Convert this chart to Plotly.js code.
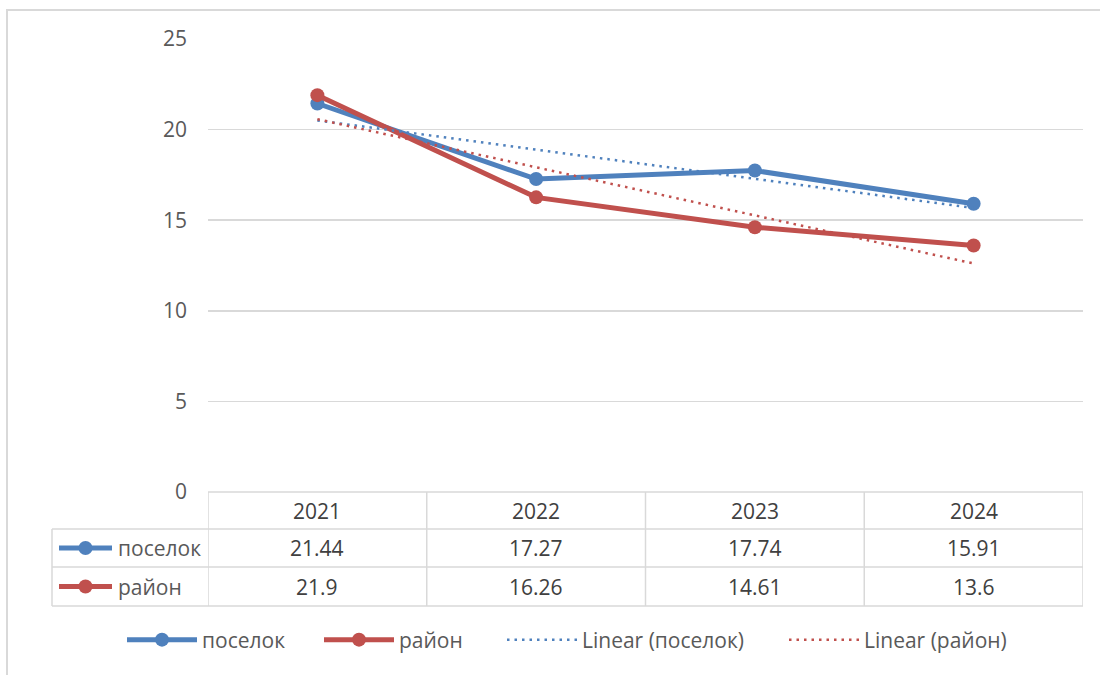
<!DOCTYPE html>
<html>
<head>
<meta charset="utf-8">
<script src="https://cdn.plot.ly/plotly-3.0.1.min.js"></script>
<style>
  html, body { margin: 0; padding: 0; background: #fff; }
  #wrap { position: relative; width: 1100px; height: 675px; overflow: hidden; }
  #chart { width: 1100px; height: 675px; }
  #frame { position: absolute; left: 6px; top: 9px; width: 1200px; height: 800px;
           border-left: 2px solid #d9d9d9; border-top: 2px solid #d9d9d9; pointer-events: none; }
</style>
</head>
<body>
<div id="wrap"><div id="chart"></div><div id="frame"></div></div>
<script>
// ---- data ----
const years = ['2021', '2022', '2023', '2024'];
const poselok = [21.44, 17.27, 17.74, 15.91];
const rayon = [21.9, 16.26, 14.61, 13.6];
const seriesNames = ['поселок', 'район'];
const trendNames = ['Linear (поселок)', 'Linear (район)'];
const yTicks = [0, 5, 10, 15, 20, 25];

// ---- styling ----
const BLUE = '#4f81bd', RED = '#c0504d';
const FONT = 'Open Sans, "Noto Sans", sans-serif';
const TXT = '#595959', VAL = '#404040', GRID = '#d9d9d9';
const FS = 21;

// least-squares linear trendline (as Excel computes it)
function linearTrend(vals) {
  const n = vals.length;
  const xs = vals.map((_, i) => i + 1);
  const mx = xs.reduce((a, b) => a + b, 0) / n;
  const my = vals.reduce((a, b) => a + b, 0) / n;
  let sxy = 0, sxx = 0;
  for (let i = 0; i < n; i++) { sxy += (xs[i] - mx) * (vals[i] - my); sxx += (xs[i] - mx) ** 2; }
  const b = sxy / sxx, a = my - b * mx;
  return xs.map(x => a + b * x);
}

// plot area geometry (pixels)
const L = 208, R = 1083, T = 39, B = 492;
const W = R - L, H = B - T;
const px = x => (x - L) / W;
const py = y => (B - y) / H;

const traces = [
  { x: years, y: poselok, name: seriesNames[0], type: 'scatter', mode: 'lines+markers', legend: 'legend',
    line: { color: BLUE, width: 5 }, marker: { color: BLUE, size: 14 } },
  { x: years, y: rayon, name: seriesNames[1], type: 'scatter', mode: 'lines+markers', legend: 'legend2',
    line: { color: RED, width: 5 }, marker: { color: RED, size: 14 } },
  { x: years, y: linearTrend(poselok), name: trendNames[0], type: 'scatter', mode: 'lines', legend: 'legend3',
    line: { color: BLUE, width: 2.5, dash: '2.5px,5px' } },
  { x: years, y: linearTrend(rayon), name: trendNames[1], type: 'scatter', mode: 'lines', legend: 'legend4',
    line: { color: RED, width: 2.5, dash: '2.5px,5px' } }
];

// data table
const rowTop = 492, rowLines = [529, 567, 606];
const shapes = [];
const lineStyle = { color: GRID, width: 1.5 };
shapes.push({ type: 'line', xref: 'paper', yref: 'paper', x0: 0, x1: 1, y0: py(rowTop), y1: py(rowTop), line: lineStyle });
rowLines.forEach(y => shapes.push({ type: 'line', xref: 'paper', yref: 'paper', x0: px(52), x1: 1, y0: py(y), y1: py(y), line: lineStyle }));
for (let i = 0; i <= years.length; i++) {
  shapes.push({ type: 'line', xref: 'x', yref: 'paper', x0: i - 0.5, x1: i - 0.5, y0: py(rowTop), y1: py(rowLines[2]), line: lineStyle });
}
shapes.push({ type: 'line', xref: 'paper', yref: 'paper', x0: px(52), x1: px(52), y0: py(rowLines[0]), y1: py(rowLines[2]), line: lineStyle });

const annotations = [];
const headerY = py((rowTop + rowLines[0]) / 2);
const rowY = [py((rowLines[0] + rowLines[1]) / 2), py((rowLines[1] + rowLines[2]) / 2)];
const tfont = { family: FONT, size: FS, color: VAL };
years.forEach((yr, i) => {
  annotations.push({ x: i, xref: 'x', y: headerY, yref: 'paper', text: yr, showarrow: false, font: tfont, xanchor: 'center', yanchor: 'middle' });
  annotations.push({ x: i, xref: 'x', y: rowY[0], yref: 'paper', text: String(poselok[i]), showarrow: false, font: tfont, xanchor: 'center', yanchor: 'middle' });
  annotations.push({ x: i, xref: 'x', y: rowY[1], yref: 'paper', text: String(rayon[i]), showarrow: false, font: tfont, xanchor: 'center', yanchor: 'middle' });
});
[BLUE, RED].forEach((c, k) => {
  shapes.push({ type: 'line', xref: 'paper', yref: 'paper', x0: px(59), x1: px(112), y0: rowY[k], y1: rowY[k], line: { color: c, width: 5 } });
  shapes.push({ type: 'circle', xref: 'paper', yref: 'paper', xsizemode: 'pixel', ysizemode: 'pixel',
    xanchor: px(85.5), yanchor: rowY[k], x0: -7, x1: 7, y0: -7, y1: 7, fillcolor: c, line: { color: c, width: 0 } });
  annotations.push({ x: px(116), xref: 'paper', y: rowY[k], yref: 'paper', text: seriesNames[k], showarrow: false,
    font: { family: FONT, size: FS, color: TXT }, xanchor: 'left', yanchor: 'middle' });
});

// four legends, one per entry, placed like the reference
const legendX = [132, 329, 512, 794];
function legendAt(xpx) {
  return { orientation: 'h', x: px(xpx - 10), xanchor: 'left', y: py(640), yanchor: 'middle',
    bgcolor: 'rgba(0,0,0,0)', font: { family: FONT, size: FS, color: TXT }, itemwidth: 70 };
}

const layout = {
  width: 1100, height: 675,
  margin: { l: L, r: 1100 - R, t: T, b: 675 - B, pad: 0 },
  paper_bgcolor: '#fff', plot_bgcolor: '#fff',
  font: { family: FONT, size: FS, color: TXT },
  showlegend: true,
  legend: legendAt(legendX[0]),
  legend2: legendAt(legendX[1]),
  legend3: legendAt(legendX[2]),
  legend4: legendAt(legendX[3]),
  xaxis: { type: 'category', range: [-0.5, years.length - 0.5], showgrid: false, zeroline: false,
    showticklabels: false, showline: false, fixedrange: true },
  yaxis: { range: [0, 25], tickvals: yTicks, ticktext: yTicks.map(String), showgrid: true, gridcolor: GRID, gridwidth: 1.5,
    zeroline: false, showline: false, ticks: '', ticklabelstandoff: 20,
    tickfont: { family: FONT, size: FS, color: TXT }, fixedrange: true },
  shapes: shapes,
  annotations: annotations
};

Plotly.newPlot('chart', traces, layout, { displayModeBar: false, staticPlot: true });
</script>
</body>
</html>
